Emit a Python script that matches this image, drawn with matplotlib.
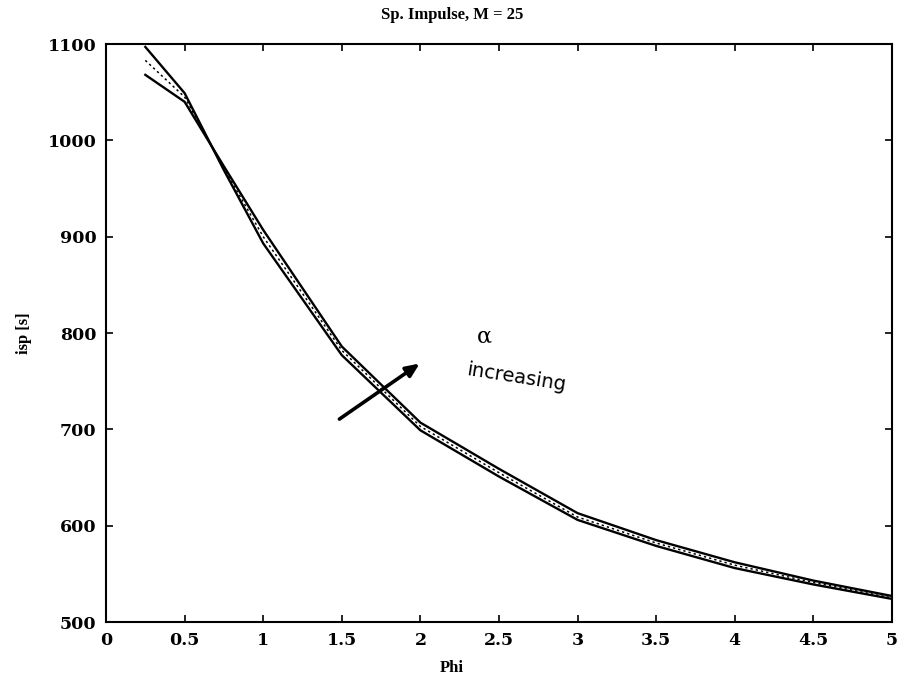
import matplotlib
matplotlib.use("Agg")
import matplotlib.pyplot as plt

# Phi values sampled along each curve
phi = [0.25, 0.5, 0.75, 1.0, 1.5, 2.0, 2.5, 3.0, 3.5, 4.0, 4.5, 5.0]

# specific impulse [s] for three alpha values
isp_alpha_low = [1097, 1049, 969, 893, 777, 699, 651, 606, 579, 556, 539, 524]
isp_alpha_mid = [1083, 1045, 971, 900, 782, 703, 655, 609, 582, 559, 541, 525]
isp_alpha_high = [1068, 1040, 973, 907, 786, 707, 659, 613, 585, 562, 543, 527]

x_ticks = [0, 0.5, 1, 1.5, 2, 2.5, 3, 3.5, 4, 4.5, 5]
x_tick_labels = ["0", "0.5", "1", "1.5", "2", "2.5", "3", "3.5", "4", "4.5", "5"]
y_ticks = [500, 600, 700, 800, 900, 1000, 1100]

plt.rcParams["font.family"] = ["DejaVu Serif"]
plt.rcParams["font.weight"] = "bold"
label_font = dict(family=["Liberation Serif", "DejaVu Serif"], fontweight="bold", fontsize=12)

fig = plt.figure(figsize=(9.04, 7.0), dpi=100)
ax_left, ax_width = 0.1173, 0.8694
ax = fig.add_axes([ax_left, 0.1114, ax_width, 0.8257])

ax.plot(phi, isp_alpha_low, color="black", linewidth=1.7, linestyle="-")
ax.plot(phi, isp_alpha_mid, color="black", linewidth=1.1, linestyle=(0, (1.5, 2.0)))
ax.plot(phi, isp_alpha_high, color="black", linewidth=1.7, linestyle="-")

ax.set_xlim(0, 5)
ax.set_ylim(500, 1100)
ax.set_xticks(x_ticks)
ax.set_xticklabels(x_tick_labels)
ax.set_yticks(y_ticks)
ax.tick_params(direction="in", length=5, width=1.2, top=True, right=True,
               labelsize=12.5, pad=7)
for spine in ax.spines.values():
    spine.set_linewidth(1.5)

# title and x label sit at the figure centre, not the axes centre
x_mid = (0.5 - ax_left) / ax_width
ax.set_title("Sp. Impulse, M = 25", pad=18, x=x_mid, **label_font)
ax.set_xlabel("Phi", **label_font)
ax.xaxis.set_label_coords(x_mid, -0.065)
ax.set_ylabel("isp [s]", labelpad=11, **label_font)

# hand-drawn annotation
ax.annotate("", xy=(2.01, 770), xytext=(1.47, 709),
            arrowprops=dict(arrowstyle="-|>,head_length=0.8,head_width=0.35",
                            color="black", linewidth=2.6))
ax.text(2.41, 796, "α", fontsize=16, ha="center", va="center", fontweight="normal")
ax.text(2.61, 754, "increasing", fontsize=14, ha="center", va="center",
        rotation=-9, family=["DejaVu Sans"], fontweight="normal")

fig.savefig("out.png", dpi=100)
